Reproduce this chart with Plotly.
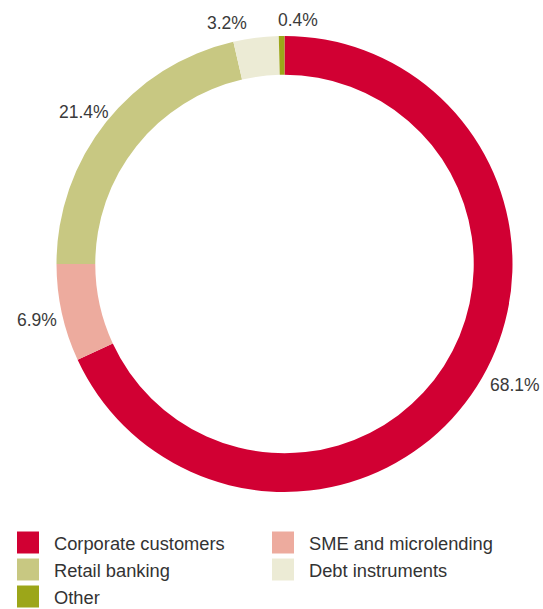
import math
import plotly.graph_objects as go

# loan portfolio breakdown
labels = ["Corporate customers", "SME and microlending", "Retail banking",
          "Debt instruments", "Other"]
shares = [68.1, 6.9, 21.4, 3.2, 0.4]
colors = ["#D10033", "#EDAB9E", "#C8C882", "#ECEBD5", "#9CA619"]

W, H = 543, 609
cx, cy, r = 284.5, 264, 228
FONT = "Liberation Sans, Arial, sans-serif"


def px(x, y):
    return x / W, 1 - y / H


fig = go.Figure(go.Pie(
    labels=labels, values=shares, sort=False, direction="clockwise",
    hole=0.83, marker=dict(colors=colors, line=dict(width=0)),
    textinfo="none",
    domain=dict(x=[(cx - r) / W, (cx + r) / W], y=[1 - (cy + r) / H, 1 - (cy - r) / H]),
    showlegend=False, hoverinfo="label+percent"))

annos, shapes = [], []

# percentage labels just outside the ring at each slice's mid angle
nudge = [(38, -2), (-25, 7), (-22, -10), (-29, -15), (16, -16)]
cum = 0
for v, (dx, dy) in zip(shares, nudge):
    th = 2 * math.pi * (cum + v / 2) / sum(shares)
    cum += v
    x, y = px(cx + r * math.sin(th), cy - r * math.cos(th))
    annos.append(dict(xref="paper", yref="paper", x=x, y=y, xshift=dx, yshift=-dy,
                      xanchor="center", yanchor="middle",
                      text=f"{v:.1f}%", showarrow=False,
                      font=dict(family=FONT, size=17.5, color="#3a3a3a")))

# manual legend: two columns, square swatches
for i, (lab, col) in enumerate(zip(labels, colors)):
    row, c = divmod(i, 2)
    x0 = 17 + c * 255
    yc = 542.5 + row * 27
    shapes.append(dict(type="rect", xref="paper", yref="paper",
                       x0=x0 / W, x1=(x0 + 22) / W,
                       y0=1 - (yc + 11) / H, y1=1 - (yc - 11) / H,
                       fillcolor=col, line=dict(width=0)))
    annos.append(dict(xref="paper", yref="paper", x=(x0 + 35) / W, y=1 - (yc + 0.5) / H,
                      text=lab, showarrow=False, xanchor="left", yanchor="middle",
                      font=dict(family=FONT, size=18.3, color="#333333")))

fig.update_layout(width=W, height=H, margin=dict(l=0, r=0, t=0, b=0),
                  paper_bgcolor="white", shapes=shapes, annotations=annos)
# drop the default 8px body margin so the figure fills the window exactly
fig.write_html("out.html", config={"displayModeBar": False},
               post_script="document.body.style.margin='0';")
